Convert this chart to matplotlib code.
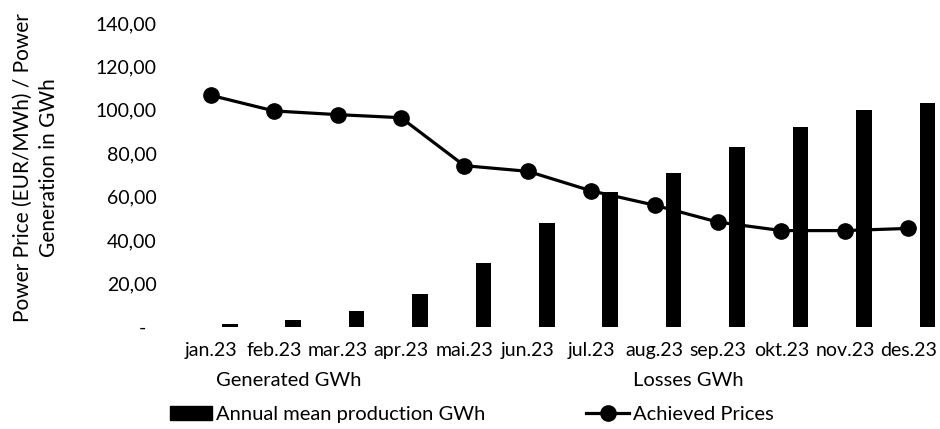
import matplotlib.pyplot as plt
from matplotlib.patches import Patch
from matplotlib.lines import Line2D

plt.rcParams['font.family'] = ['Lato', 'DejaVu Sans']

months = ['jan.23', 'feb.23', 'mar.23', 'apr.23', 'mai.23', 'jun.23',
          'jul.23', 'aug.23', 'sep.23', 'okt.23', 'nov.23', 'des.23']
production = [1.6, 3.4, 7.4, 15.0, 29.5, 48.1, 62.4, 71.0, 82.8, 92.3, 100.0, 103.3]
prices = [106.7, 99.5, 97.8, 96.4, 74.3, 71.7, 62.7, 56.1, 48.3, 44.4, 44.4, 45.4]
yticks = [0, 20, 40, 60, 80, 100, 120, 140]
ytick_labels = ['-  ', '20,00', '40,00', '60,00', '80,00', '100,00', '120,00', '140,00']

fig = plt.figure(figsize=(9.4, 4.29), dpi=100)
ax = fig.add_axes([179 / 940, 1 - 327 / 429, 1 - 179 / 940, (327 - 23) / 429])

x = list(range(len(months)))
# bars sit right of the category centre (empty series to their left in the original)
ax.bar([i + 0.3 for i in x], production, width=0.245, color='black', zorder=2)
ax.plot(x, prices, color='black', lw=2.3, marker='o', markersize=11, zorder=3)

ax.set_xlim(-0.5, 11.5)
ax.set_ylim(0, 140)
ax.set_yticks(yticks)
ax.set_yticklabels(ytick_labels, fontsize=14)
ax.set_xticks(x)
ax.set_xticklabels(months, fontsize=14)
ax.tick_params(length=0)
ax.tick_params(axis='y', pad=16)
ax.tick_params(axis='x', pad=11)
for s in ax.spines.values():
    s.set_visible(False)

fig.text(36 / 940, 1 - 168 / 429, 'Power Price (EUR/MWh) / Power\nGeneration in GWh',
         rotation=90, ha='center', va='center', fontsize=15, linespacing=1.4)

handles = [Patch(facecolor='none', edgecolor='none'),
           Patch(facecolor='black', edgecolor='black'),
           Patch(facecolor='none', edgecolor='none'),
           Line2D([], [], color='black', lw=2.3, marker='o', markersize=11)]
labels = ['Generated GWh', 'Annual mean production GWh', 'Losses GWh', 'Achieved Prices']
fig.legend(handles, labels, ncol=2, loc='upper left', bbox_to_anchor=(170 / 940, 1 - 372 / 429),
           frameon=False, fontsize=14.5, handlelength=2.1, handletextpad=0.2,
           columnspacing=5.0, labelspacing=0.85, borderpad=0, borderaxespad=0)

fig.savefig('out.png', dpi=100)
